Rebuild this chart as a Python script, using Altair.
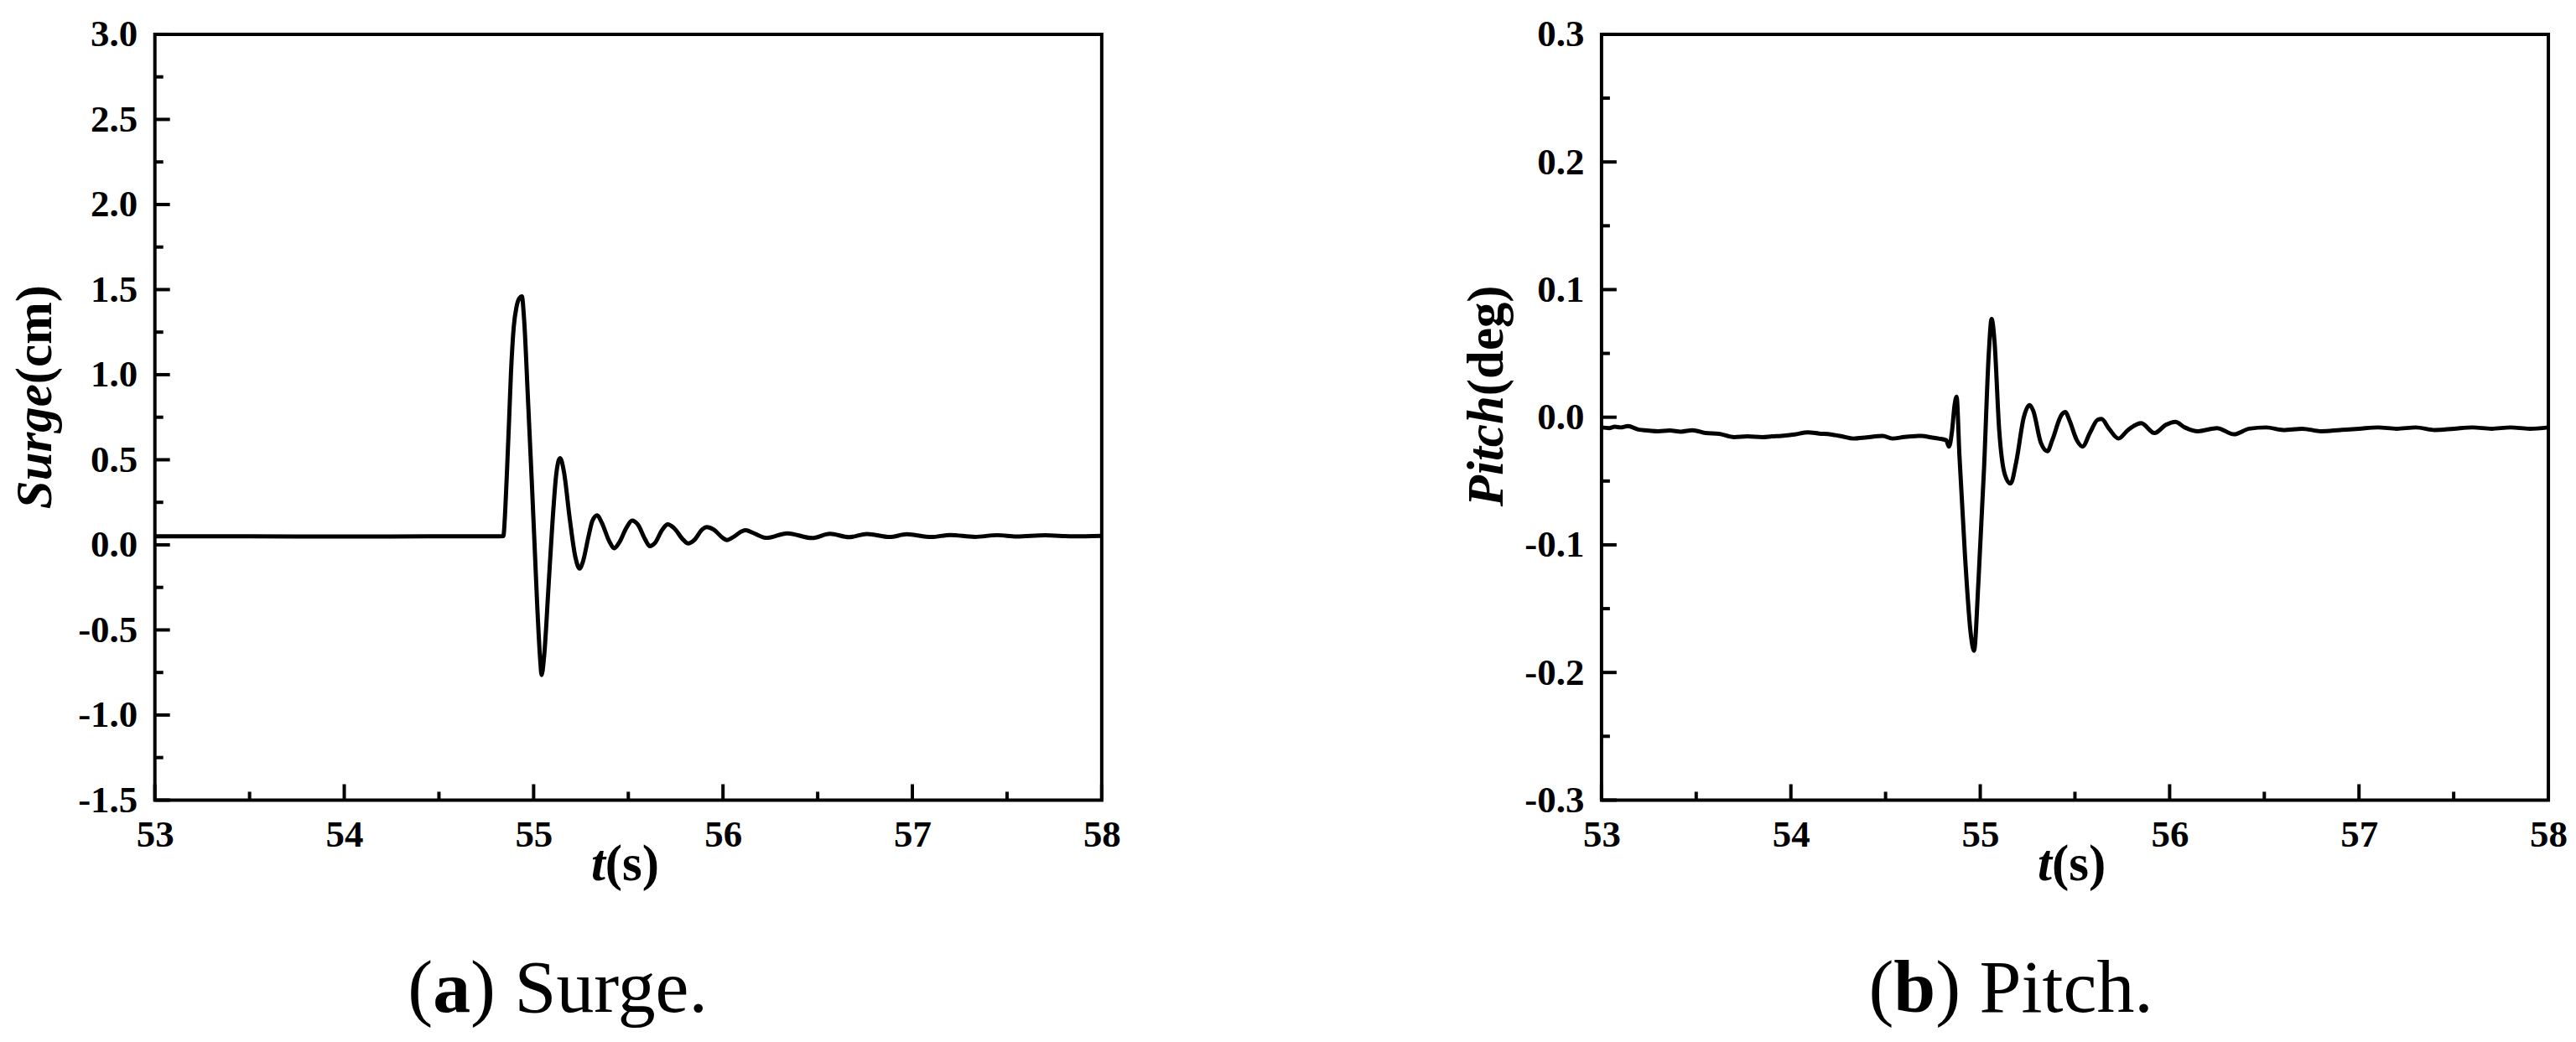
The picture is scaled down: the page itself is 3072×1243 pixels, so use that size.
import altair as alt
import pandas as pd

# ---------------- data ----------------
surge_t = [53.00, 53.50, 54.00, 54.50, 54.80, 54.84, 54.85, 54.86, 54.87, 54.88, 54.895, 54.91,
           54.925, 54.938, 54.95, 54.97, 54.99, 55.005, 55.02, 55.035, 55.042, 55.055, 55.08,
           55.10, 55.12, 55.14, 55.16, 55.19, 55.22, 55.243, 55.26, 55.29, 55.31, 55.336,
           55.36, 55.40, 55.425, 55.45, 55.49, 55.52, 55.55, 55.59, 55.614, 55.64, 55.68,
           55.708, 55.74, 55.79, 55.816, 55.85, 55.89, 55.915, 55.95, 56.00, 56.02, 56.06,
           56.10, 56.12, 56.16, 56.23, 56.34, 56.47, 56.565, 56.665, 56.76, 56.88, 56.97,
           57.10, 57.20, 57.33, 57.45, 57.55, 57.70, 57.85, 58.00]
surge_v = [0.050, 0.050, 0.049, 0.050, 0.050, 0.052, 0.20, 0.45, 0.72, 1.00, 1.28, 1.40,
           1.45, 1.46, 1.32, 0.86, 0.38, 0.00, -0.38, -0.68, -0.765, -0.66, -0.22,
           0.14, 0.42, 0.51, 0.43, 0.16, -0.07, -0.139, -0.10, 0.05, 0.14, 0.173,
           0.13, 0.02, -0.02, 0.01, 0.10, 0.143, 0.12, 0.03, -0.008, 0.01, 0.09,
           0.12, 0.10, 0.03, 0.008, 0.03, 0.09, 0.104, 0.09, 0.04, 0.028, 0.05,
           0.08, 0.086, 0.07, 0.041, 0.068, 0.040, 0.065, 0.045, 0.064, 0.046, 0.062,
           0.046, 0.058, 0.047, 0.057, 0.049, 0.056, 0.050, 0.053]

pitch_t = [53.00, 53.04, 53.07, 53.10, 53.14, 53.19, 53.255, 53.30, 53.36, 53.42, 53.48,
           53.55, 53.62, 53.70, 53.77, 53.85, 53.90, 53.95, 54.02, 54.09, 54.15, 54.21,
           54.27, 54.33, 54.40, 54.485, 54.535, 54.60, 54.69, 54.74, 54.78, 54.82, 54.835,
           54.85, 54.865, 54.875, 54.89, 54.92, 54.95, 54.967, 54.99, 55.02, 55.045, 55.06,
           55.075, 55.10, 55.13, 55.16, 55.19, 55.23, 55.26, 55.28, 55.32, 55.355, 55.38,
           55.43, 55.45, 55.47, 55.51, 55.54, 55.58, 55.62, 55.64, 55.68, 55.73, 55.78,
           55.85, 55.92, 55.98, 56.03, 56.08, 56.15, 56.25, 56.34, 56.42, 56.51, 56.60,
           56.70, 56.80, 56.90, 57.00, 57.10, 57.20, 57.30, 57.40, 57.50, 57.60, 57.70,
           57.80, 57.90, 58.00]
pitch_v = [-0.008, -0.0085, -0.0075, -0.0080, -0.0069, -0.0095, -0.0106, -0.0110, -0.0104,
           -0.0113, -0.0102, -0.0124, -0.0130, -0.0156, -0.0150, -0.0156, -0.0150, -0.0146,
           -0.0135, -0.0119, -0.0128, -0.0135, -0.0150, -0.0167, -0.0158, -0.0146, -0.0167,
           -0.0155, -0.0146, -0.0158, -0.0167, -0.018, -0.023, -0.012, 0.010, 0.016, -0.030,
           -0.110, -0.170, -0.183, -0.130, -0.040, 0.050, 0.077, 0.060, -0.010, -0.045,
           -0.052, -0.035, 0.000, 0.0095, 0.005, -0.020, -0.0266, -0.018, 0.002, 0.004,
           -0.002, -0.018, -0.023, -0.012, -0.002, -0.0014, -0.009, -0.0167, -0.010,
           -0.0047, -0.0124, -0.006, -0.0036, -0.008, -0.011, -0.0085, -0.0134, -0.009,
           -0.008, -0.010, -0.009, -0.011, -0.010, -0.009, -0.008, -0.009, -0.008, -0.010,
           -0.009, -0.008, -0.009, -0.008, -0.009, -0.008]

x_domain = [53, 58]
x_major = [53, 54, 55, 56, 57, 58]
x_minor = [53.5, 54.5, 55.5, 56.5, 57.5]

surge_domain = [-1.5, 3.0]
surge_major = [-1.5, -1.0, -0.5, 0.0, 0.5, 1.0, 1.5, 2.0, 2.5, 3.0]
surge_minor = [-1.25, -0.75, -0.25, 0.25, 0.75, 1.25, 1.75, 2.25, 2.75]

pitch_domain = [-0.3, 0.3]
pitch_major = [-0.3, -0.2, -0.1, 0.0, 0.1, 0.2, 0.3]
pitch_minor = [-0.25, -0.15, -0.05, 0.05, 0.15, 0.25]

x_title = ["t", "(s)"]
surge_title = ["Surge", "(cm)"]
pitch_title = ["Pitch", "(deg)"]
cap_a = ["(", "a", ") Surge."]
cap_b = ["(", "b", ") Pitch."]

# ---------------- style ----------------
W, H = 1131, 915
SERIF = "Liberation Serif"
LBL = 45
TTL = 61
CAP = 90
MAJ, MIN = 19, 10
TW = 4


def txt(s, **kw):
    return alt.Chart(pd.DataFrame({"s": [s]})).mark_text(font=SERIF, color="black", **kw)


def panel(t, v, ydom, ymaj, ymin, ytitle, ytitle_x, junction, cap, cap_x, cap_w):
    xs = alt.Scale(domain=x_domain, nice=False, zero=False)
    ys = alt.Scale(domain=ydom, nice=False, zero=False)
    minus_fix = "replace(format(datum.value, '.1f'), '\u2212', '-')"
    xaxis = alt.Axis(
        values=x_major, format="d", title=None, ticks=False, tickSize=0, domain=False,
        grid=False, labelFont=SERIF, labelFontSize=LBL, labelFontWeight="bold",
        labelColor="black", labelPadding=19, labelFlush=False, labelOverlap=False)
    yaxis = alt.Axis(
        values=ymaj, labelExpr=minus_fix, title=None, ticks=False, tickSize=0,
        domain=False, grid=False, labelFont=SERIF, labelFontSize=LBL,
        labelFontWeight="bold", labelColor="black", labelPadding=21,
        labelFlush=False, labelOverlap=False)

    line = alt.Chart(pd.DataFrame({"t": t, "v": v})).mark_line(
        color="black", strokeWidth=5, interpolate="monotone", strokeJoin="round"
    ).encode(
        x=alt.X("t:Q", scale=xs, axis=xaxis),
        y=alt.Y("v:Q", scale=ys, axis=yaxis),
    )
    xmaj = alt.Chart(pd.DataFrame({"x": x_major})).mark_rule(color="black", strokeWidth=TW).encode(
        x=alt.X("x:Q", scale=xs, axis=xaxis), y=alt.value(H), y2=alt.value(H - MAJ))
    xmin = alt.Chart(pd.DataFrame({"x": x_minor})).mark_rule(color="black", strokeWidth=TW).encode(
        x=alt.X("x:Q", scale=xs, axis=xaxis), y=alt.value(H), y2=alt.value(H - MIN))
    ymj = alt.Chart(pd.DataFrame({"y": ymaj})).mark_rule(color="black", strokeWidth=TW).encode(
        y=alt.Y("y:Q", scale=ys, axis=yaxis), x=alt.value(0), x2=alt.value(MAJ - 1))
    ymn = alt.Chart(pd.DataFrame({"y": ymin})).mark_rule(color="black", strokeWidth=TW).encode(
        y=alt.Y("y:Q", scale=ys, axis=yaxis), x=alt.value(0), x2=alt.value(MIN))

    # axis titles (mixed italic / upright)
    xt1 = txt(x_title[0], fontSize=TTL, fontWeight="bold", fontStyle="italic",
              align="right", baseline="alphabetic").encode(
        text="s:N", x=alt.value(538), y=alt.value(1011))
    xt2 = txt(x_title[1], fontSize=TTL, fontWeight="bold",
              align="left", baseline="alphabetic").encode(
        text="s:N", x=alt.value(538), y=alt.value(1011))
    yt1 = txt(ytitle[0], fontSize=TTL, fontWeight="bold", fontStyle="italic", angle=270,
              align="right", baseline="middle").encode(
        text="s:N", x=alt.value(ytitle_x), y=alt.value(junction))
    yt2 = txt(ytitle[1], fontSize=TTL, fontWeight="bold", angle=270,
              align="left", baseline="middle").encode(
        text="s:N", x=alt.value(ytitle_x), y=alt.value(junction))

    # caption
    c1 = txt(cap[0], fontSize=CAP, align="right", baseline="alphabetic").encode(
        text="s:N", x=alt.value(cap_x), y=alt.value(1168))
    c2 = txt(cap[1], fontSize=CAP, fontWeight="bold", align="left", baseline="alphabetic").encode(
        text="s:N", x=alt.value(cap_x), y=alt.value(1168))
    c3 = txt(cap[2], fontSize=CAP, align="left", baseline="alphabetic").encode(
        text="s:N", x=alt.value(cap_x + cap_w), y=alt.value(1168))

    return alt.layer(line, xmaj, xmin, ymj, ymn, xt1, xt2, yt1, yt2, c1, c2, c3).properties(
        width=W, height=H)


left = panel(surge_t, surge_v, surge_domain, surge_major, surge_minor,
             surge_title, -142, 418, cap_a, 332, 45)
right = panel(pitch_t, pitch_v, pitch_domain, pitch_major, pitch_minor,
              pitch_title, -136, 432, cap_b, 349, 50)

chart = alt.hconcat(left, right, spacing=403).properties(
    padding={"left": 2, "top": 8, "right": 0, "bottom": 0},
    background="white",
).configure_view(
    stroke="black", strokeWidth=4, fill="white"
)

chart.save("out.html", embed_options={"renderer": "svg", "actions": False})
